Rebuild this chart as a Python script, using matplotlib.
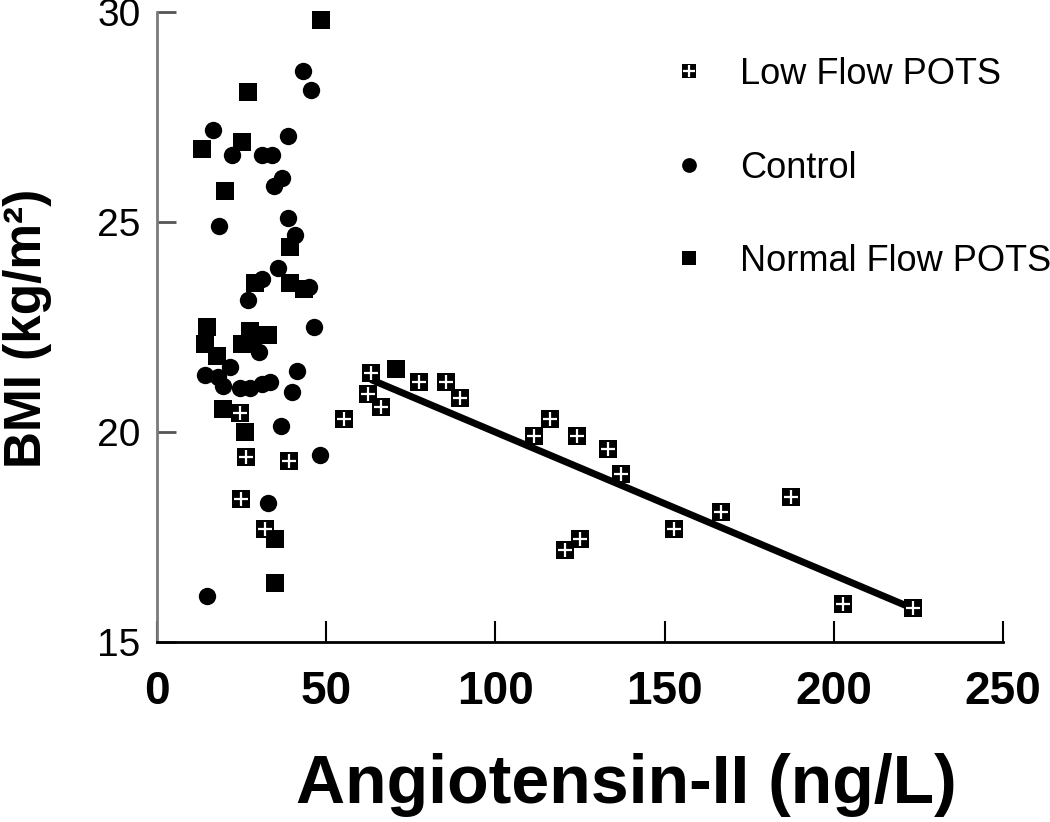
import matplotlib
matplotlib.use("Agg")
import matplotlib.pyplot as plt
from matplotlib.legend_handler import HandlerTuple

# ---------------- data ----------------
low_x = [24.6, 26.4, 39.1, 24.9, 32.0, 55.2, 63.2, 62.3, 66.1, 77.4, 85.4, 89.6,
         111.5, 116.0, 124.0, 133.2, 137.0, 124.9, 120.7, 152.7, 166.7, 187.4,
         202.8, 223.3]
low_y = [20.45, 19.4, 19.3, 18.4, 17.7, 20.3, 21.4, 20.9, 20.6, 21.2, 21.2, 20.8,
         19.9, 20.3, 19.9, 19.6, 19.0, 17.45, 17.2, 17.7, 18.1, 18.45,
         15.9, 15.8]

ctrl_x = [43.0, 45.4, 16.6, 22.2, 31.1, 34.1, 38.8, 34.7, 36.8, 18.3, 38.8, 40.9,
          35.9, 31.1, 27.0, 44.8, 46.3, 30.0, 14.2, 18.1, 21.6, 19.6, 24.6, 27.6,
          31.1, 33.5, 41.5, 40.0, 36.5, 48.3, 32.9, 14.8]
ctrl_y = [28.6, 28.15, 27.2, 26.6, 26.6, 26.6, 27.05, 25.85, 26.05, 24.9, 25.1, 24.7,
          23.9, 23.65, 23.15, 23.45, 22.5, 21.9, 21.35, 21.3, 21.55, 21.1, 21.05, 21.05,
          21.15, 21.2, 21.45, 20.95, 20.15, 19.45, 18.3, 16.1]

norm_x = [48.6, 27.0, 13.3, 25.2, 20.2, 39.4, 29.1, 39.4, 43.3, 14.8, 14.2, 27.6,
          25.2, 32.9, 28.2, 17.8, 19.6, 26.1, 35.0, 35.0, 70.6]
norm_y = [29.8, 28.1, 26.75, 26.9, 25.75, 24.4, 23.55, 23.55, 23.4, 22.5, 22.1, 22.4,
          22.1, 22.3, 22.1, 21.8, 20.55, 20.0, 17.45, 16.4, 21.5]

fit_x = [63.2, 223.3]
fit_y = [21.25, 15.8]

x_ticks = [0, 50, 100, 150, 200, 250]
y_ticks = [15, 20, 25, 30]
labels = ["Low Flow POTS", "Control", "Normal Flow POTS"]

# ---------------- plot ----------------
plt.rcParams['font.family'] = ['Liberation Sans', 'DejaVu Sans']

fig = plt.figure(figsize=(10.5, 8.22), dpi=100)
ax = fig.add_axes([157/1050, 1-642/822, (1003-157)/1050, (642-12)/822])

ms = 12.5
h_norm, = ax.plot(norm_x, norm_y, 's', ms=ms, color='black', mec='black', mew=0, clip_on=False, zorder=3)
h_ctrl, = ax.plot(ctrl_x, ctrl_y, 'o', ms=ms, color='black', mec='black', mew=0, clip_on=False, zorder=3)
ax.plot(fit_x, fit_y, '-', color='black', lw=5, solid_capstyle='butt', zorder=4)
h_low, = ax.plot(low_x, low_y, 's', ms=ms, color='black', mec='black', mew=0, clip_on=False, zorder=5)
h_plus, = ax.plot(low_x, low_y, '+', ms=ms*0.75, color='white', mew=1.6, clip_on=False, zorder=6)

ax.set_xlim(0, 250)
ax.set_ylim(15, 30)
ax.set_xticks(x_ticks)
ax.set_yticks(y_ticks)
for s in ['top', 'right']:
    ax.spines[s].set_visible(False)
ax.spines['left'].set_color('#7a7a7a')
ax.spines['left'].set_linewidth(2)
ax.spines['bottom'].set_color('black')
ax.spines['bottom'].set_linewidth(2)
ax.tick_params(axis='y', direction='in', length=14, width=2, color='#555555', pad=12,
               labelsize=28)
ax.tick_params(axis='x', direction='in', length=15, width=1.5, color='black', pad=20)
for lab in ax.get_xticklabels():
    lab.set_fontweight('bold')
    lab.set_fontsize(33)

fig.text(28/1050, 1-328/822, "BMI (kg/m²)", rotation=90, ha='center', va='center',
         fontsize=37, fontweight='bold')
fig.text(626/1050, 1-785/822, "Angiotensin-II (ng/L)", ha='center', va='center',
         fontsize=49, fontweight='bold')

leg = ax.legend([(h_low, h_plus), h_ctrl, h_norm], labels,
                handler_map={tuple: HandlerTuple(ndivide=1, pad=0)},
                loc='upper left', bbox_to_anchor=(671/1050, 1-57/822),
                bbox_transform=fig.transFigure, frameon=False, fontsize=26,
                handlelength=1.0, handletextpad=0.92, labelspacing=1.62,
                borderpad=0, borderaxespad=0, markerscale=0.85)

fig.savefig("out.png", dpi=100)
